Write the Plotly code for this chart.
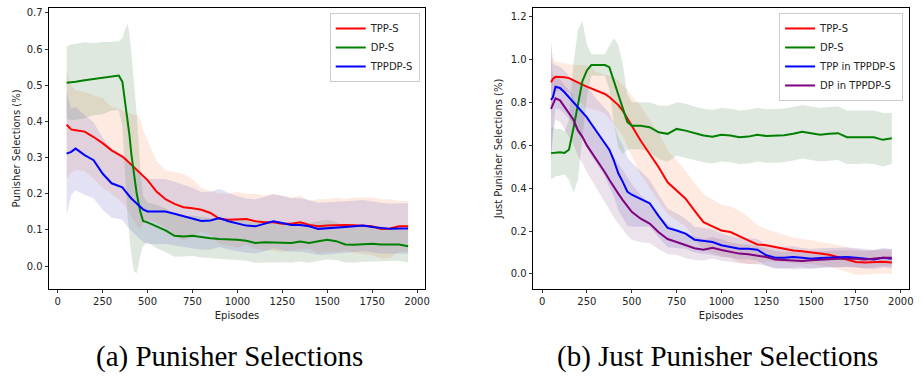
import plotly.graph_objects as go

# ---------------- data: (a) Punisher Selections ----------------
ep_a = [50, 75, 100, 150, 200, 250, 300, 340, 360, 375, 390, 400, 410, 425, 440, 450, 460, 475, 500,
        550, 600, 650, 700, 750, 800, 850, 900, 950, 1000, 1050, 1100, 1150, 1200, 1250, 1300, 1350,
        1400, 1450, 1500, 1550, 1600, 1650, 1700, 1750, 1800, 1850, 1900, 1950]

tpp_s_a = [0.391, 0.378, 0.376, 0.372, 0.357, 0.340, 0.320, 0.310, 0.303, 0.297, 0.290, 0.284, 0.279,
           0.272, 0.266, 0.261, 0.255, 0.248, 0.238, 0.206, 0.185, 0.172, 0.163, 0.160, 0.156, 0.147,
           0.131, 0.128, 0.128, 0.130, 0.124, 0.121, 0.121, 0.117, 0.117, 0.121, 0.114, 0.110, 0.112,
           0.114, 0.114, 0.113, 0.112, 0.110, 0.103, 0.104, 0.110, 0.110]
tpp_s_a_sd = [0.150, 0.120, 0.110, 0.110, 0.115, 0.125, 0.120, 0.125, 0.128, 0.130, 0.135, 0.140, 0.143,
              0.148, 0.152, 0.155, 0.150, 0.130, 0.110, 0.085, 0.080, 0.088, 0.092, 0.080, 0.060, 0.060,
              0.070, 0.072, 0.077, 0.070, 0.076, 0.074, 0.079, 0.078, 0.073, 0.074, 0.066, 0.075, 0.073,
              0.076, 0.071, 0.077, 0.078, 0.080, 0.082, 0.081, 0.070, 0.070]

dp_s_a = [0.507, 0.508, 0.510, 0.514, 0.517, 0.520, 0.525, 0.527, 0.510, 0.455, 0.400, 0.360, 0.310,
          0.250, 0.200, 0.175, 0.150, 0.125, 0.121, 0.110, 0.099, 0.084, 0.082, 0.084, 0.080, 0.077,
          0.075, 0.075, 0.073, 0.070, 0.064, 0.066, 0.066, 0.066, 0.064, 0.068, 0.064, 0.069, 0.073,
          0.069, 0.060, 0.059, 0.060, 0.062, 0.060, 0.060, 0.060, 0.055]
dp_s_a_sd = [0.100, 0.105, 0.105, 0.105, 0.100, 0.100, 0.095, 0.095, 0.120, 0.200, 0.270, 0.280, 0.280,
             0.265, 0.220, 0.170, 0.120, 0.070, 0.055, 0.060, 0.060, 0.058, 0.056, 0.056, 0.056, 0.056,
             0.056, 0.056, 0.056, 0.055, 0.055, 0.055, 0.055, 0.055, 0.055, 0.055, 0.055, 0.055, 0.055,
             0.052, 0.050, 0.050, 0.048, 0.048, 0.047, 0.046, 0.045, 0.045]

tppdp_s_a = [0.311, 0.316, 0.325, 0.307, 0.293, 0.256, 0.229, 0.222, 0.218, 0.208, 0.198, 0.192, 0.187,
             0.180, 0.173, 0.169, 0.163, 0.157, 0.151, 0.151, 0.151, 0.145, 0.139, 0.133, 0.125, 0.126,
             0.133, 0.124, 0.117, 0.112, 0.110, 0.116, 0.124, 0.119, 0.114, 0.114, 0.110, 0.103, 0.104,
             0.106, 0.108, 0.110, 0.112, 0.108, 0.105, 0.103, 0.104, 0.104]
tppdp_s_a_sd = [0.170, 0.120, 0.115, 0.110, 0.105, 0.100, 0.095, 0.092, 0.090, 0.090, 0.090, 0.090, 0.090,
                0.090, 0.090, 0.090, 0.090, 0.090, 0.090, 0.090, 0.090, 0.088, 0.086, 0.084, 0.080, 0.080,
                0.080, 0.078, 0.076, 0.075, 0.075, 0.075, 0.075, 0.075, 0.074, 0.074, 0.073, 0.072, 0.072,
                0.072, 0.072, 0.071, 0.071, 0.070, 0.070, 0.070, 0.070, 0.070]

# ---------------- data: (b) Just Punisher Selections ----------------
ep_b = [50, 60, 75, 100, 125, 150, 175, 200, 225, 250, 275, 300, 350, 375, 400, 425, 450, 475, 500,
        550, 600, 650, 700, 750, 800, 850, 900, 950, 1000, 1050, 1100, 1150, 1200, 1250, 1300, 1350,
        1400, 1450, 1500, 1550, 1600, 1650, 1700, 1750, 1800, 1850, 1900, 1950]

tpp_s_b = [0.894, 0.910, 0.920, 0.920, 0.918, 0.914, 0.905, 0.894, 0.884, 0.874, 0.865, 0.855, 0.840,
           0.826, 0.809, 0.788, 0.762, 0.730, 0.692, 0.622, 0.560, 0.498, 0.428, 0.390, 0.351, 0.296,
           0.242, 0.222, 0.203, 0.196, 0.175, 0.157, 0.138, 0.134, 0.126, 0.118, 0.110, 0.106, 0.102,
           0.095, 0.090, 0.079, 0.067, 0.056, 0.054, 0.056, 0.057, 0.054]
tpp_s_b_sd = [0.170, 0.100, 0.070, 0.065, 0.065, 0.065, 0.072, 0.080, 0.090, 0.100, 0.095, 0.090, 0.090,
              0.100, 0.110, 0.115, 0.120, 0.130, 0.140, 0.160, 0.160, 0.160, 0.150, 0.140, 0.130, 0.130,
              0.130, 0.125, 0.120, 0.120, 0.120, 0.110, 0.090, 0.075, 0.070, 0.065, 0.060, 0.058, 0.055,
              0.055, 0.055, 0.056, 0.058, 0.060, 0.058, 0.056, 0.055, 0.055]

dp_s_b = [0.564, 0.565, 0.566, 0.568, 0.565, 0.580, 0.680, 0.790, 0.900, 0.950, 0.975, 0.975, 0.975,
          0.965, 0.900, 0.830, 0.770, 0.710, 0.692, 0.692, 0.685, 0.661, 0.654, 0.677, 0.669, 0.657,
          0.646, 0.641, 0.650, 0.646, 0.638, 0.641, 0.650, 0.644, 0.644, 0.647, 0.654, 0.664, 0.657,
          0.650, 0.654, 0.657, 0.638, 0.638, 0.641, 0.638, 0.626, 0.633]
dp_s_b_sd = [0.120, 0.120, 0.110, 0.110, 0.100, 0.140, 0.300, 0.350, 0.280, 0.120, 0.050, 0.050, 0.050,
             0.100, 0.200, 0.240, 0.210, 0.130, 0.110, 0.110, 0.115, 0.125, 0.130, 0.125, 0.125, 0.125,
             0.125, 0.125, 0.125, 0.125, 0.125, 0.125, 0.125, 0.125, 0.125, 0.125, 0.125, 0.125, 0.125,
             0.125, 0.125, 0.125, 0.125, 0.125, 0.125, 0.125, 0.125, 0.120]

tpp_tppdp_b = [0.812, 0.824, 0.874, 0.868, 0.848, 0.824, 0.800, 0.778, 0.755, 0.731, 0.700, 0.670, 0.615,
               0.580, 0.530, 0.470, 0.430, 0.385, 0.370, 0.350, 0.330, 0.270, 0.215, 0.203, 0.188, 0.160,
               0.154, 0.149, 0.134, 0.126, 0.118, 0.118, 0.113, 0.087, 0.076, 0.076, 0.079, 0.076, 0.071,
               0.075, 0.076, 0.076, 0.079, 0.076, 0.071, 0.067, 0.076, 0.071]
tpp_tppdp_b_sd = [0.280, 0.160, 0.100, 0.100, 0.100, 0.100, 0.110, 0.120, 0.130, 0.140, 0.150, 0.150, 0.160,
                  0.170, 0.170, 0.170, 0.170, 0.160, 0.150, 0.130, 0.110, 0.100, 0.090, 0.080, 0.070, 0.060,
                  0.060, 0.060, 0.055, 0.050, 0.050, 0.050, 0.050, 0.050, 0.050, 0.050, 0.050, 0.045, 0.045,
                  0.045, 0.045, 0.045, 0.045, 0.045, 0.045, 0.045, 0.045, 0.045]

dp_tppdp_b = [0.770, 0.790, 0.820, 0.810, 0.780, 0.750, 0.720, 0.670, 0.640, 0.600, 0.570, 0.540, 0.475,
              0.440, 0.405, 0.375, 0.345, 0.315, 0.290, 0.258, 0.235, 0.195, 0.163, 0.149, 0.133, 0.120,
              0.113, 0.122, 0.112, 0.102, 0.095, 0.092, 0.087, 0.079, 0.067, 0.064, 0.061, 0.061, 0.064,
              0.067, 0.071, 0.071, 0.071, 0.071, 0.067, 0.071, 0.076, 0.076]
dp_tppdp_b_sd = [0.250, 0.140, 0.100, 0.100, 0.100, 0.110, 0.115, 0.120, 0.122, 0.125, 0.128, 0.130, 0.135,
                 0.140, 0.140, 0.140, 0.140, 0.135, 0.130, 0.110, 0.090, 0.080, 0.070, 0.060, 0.060, 0.055,
                 0.050, 0.050, 0.050, 0.045, 0.045, 0.045, 0.042, 0.040, 0.040, 0.040, 0.040, 0.040, 0.040,
                 0.040, 0.040, 0.040, 0.040, 0.040, 0.040, 0.040, 0.040, 0.040]

# ---------------- text ----------------
x_title = "Episodes"
y_title_a = "Punisher Selections (%)"
y_title_b = "Just Punisher Selections (%)"
caption_a = "(a) Punisher Selections"
caption_b = "(b) Just Punisher Selections"

series_a = [
    ("TPP-S", tpp_s_a, tpp_s_a_sd, "#ff0000", "rgba(250,160,120,0.22)"),
    ("DP-S", dp_s_a, dp_s_a_sd, "#008000", "rgba(90,140,90,0.2)"),
    ("TPPDP-S", tppdp_s_a, tppdp_s_a_sd, "#0000ff", "rgba(110,110,200,0.2)"),
]
series_b = [
    ("TPP-S", tpp_s_b, tpp_s_b_sd, "#ff0000", "rgba(250,160,120,0.22)"),
    ("DP-S", dp_s_b, dp_s_b_sd, "#008000", "rgba(90,140,90,0.2)"),
    ("TPP in TPPDP-S", tpp_tppdp_b, tpp_tppdp_b_sd, "#0000ff", "rgba(110,110,200,0.2)"),
    ("DP in TPPDP-S", dp_tppdp_b, dp_tppdp_b_sd, "#800080", "rgba(128,60,128,0.15)"),
]

fig = go.Figure()


def add_panel(xs, series, xa, ya, legend_name):
    for name, mean, sd, col, fill in series:
        upper = [m + s for m, s in zip(mean, sd)]
        lower = [m - s for m, s in zip(mean, sd)]
        fig.add_trace(go.Scatter(
            x=xs + xs[::-1], y=upper + lower[::-1], fill="toself", fillcolor=fill,
            line=dict(width=0), mode="lines", hoverinfo="skip", showlegend=False,
            xaxis=xa, yaxis=ya))
    for name, mean, sd, col, fill in series:
        fig.add_trace(go.Scatter(
            x=xs, y=mean, mode="lines", name=name, line=dict(color=col, width=2),
            xaxis=xa, yaxis=ya, legend=legend_name))


add_panel(ep_a, series_a, "x", "y", "legend")
add_panel(ep_b, series_b, "x2", "y2", "legend2")

W, H = 923, 377
font_main = dict(family="DejaVu Sans", size=10, color="#222222")

axis_common = dict(showgrid=False, zeroline=False, showline=True, linecolor="#000000", linewidth=1,
                   mirror=True, ticks="outside", ticklen=3.5, tickwidth=1, tickcolor="#333333",
                   tickfont=font_main)

cap_font = dict(family="Liberation Serif", size=29, color="#000000")

fig.update_layout(
    width=W, height=H,
    margin=dict(l=0, r=0, t=0, b=0),
    paper_bgcolor="white", plot_bgcolor="white",
    font=font_main,
    xaxis=dict(domain=[49.3 / W, 427.3 / W], range=[-48, 2044], tick0=0, dtick=250,
               title=dict(text=x_title, font=font_main, standoff=5), anchor="y", **axis_common),
    yaxis=dict(domain=[1 - 288.3 / H, 1 - 7.3 / H], range=[-0.062, 0.713], tick0=0, dtick=0.1,
               tickformat=".1f", title=dict(text=y_title_a, font=font_main, standoff=4), anchor="x",
               **axis_common),
    xaxis2=dict(domain=[536 / W, 914 / W], range=[-50, 2046], tick0=0, dtick=250,
                title=dict(text=x_title, font=font_main, standoff=5), anchor="y2", **axis_common),
    yaxis2=dict(domain=[1 - 288.3 / H, 1 - 7.3 / H], range=[-0.068, 1.24], tick0=0, dtick=0.2,
                tickformat=".1f", title=dict(text=y_title_b, font=font_main, standoff=6), anchor="x2",
                **axis_common),
    legend=dict(x=422 / W, y=1 - 12 / H, xanchor="right", yanchor="top", bgcolor="rgba(255,255,255,0.8)",
                bordercolor="#cccccc", borderwidth=1, font=font_main, tracegroupgap=0),
    legend2=dict(x=908 / W, y=1 - 12 / H, xanchor="right", yanchor="top", bgcolor="rgba(255,255,255,0.8)",
                 bordercolor="#cccccc", borderwidth=1, font=font_main, tracegroupgap=0),
    annotations=[
        dict(text=caption_a, x=231 / W, y=1 - 356 / H, xref="paper", yref="paper", showarrow=False,
             xanchor="center", yanchor="middle", font=cap_font),
        dict(text=caption_b, x=721 / W, y=1 - 356 / H, xref="paper", yref="paper", showarrow=False,
             xanchor="center", yanchor="middle", font=cap_font),
    ],
)

fig.write_html("out.html")
